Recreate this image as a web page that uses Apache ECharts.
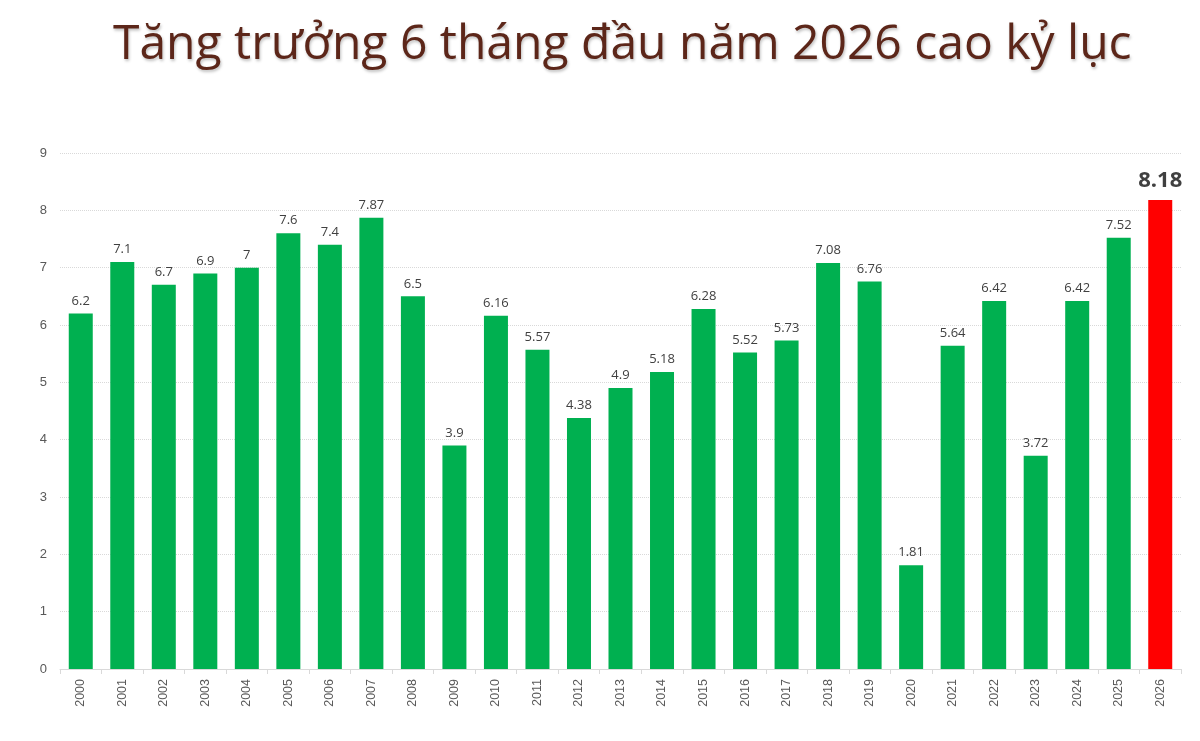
<!DOCTYPE html>
<html>
<head>
<meta charset="utf-8">
<script src="https://cdn.jsdelivr.net/npm/echarts@6/dist/echarts.min.js"></script>
<style>
html,body{margin:0;padding:0;background:#fff;}
#main-chart{width:1200px;height:741px;}
</style>
</head>
<body>
<div id="main-chart"></div>
<script>
// dữ liệu
var years = ['2000','2001','2002','2003','2004','2005','2006','2007','2008','2009','2010','2011','2012','2013',
	'2014','2015','2016','2017','2018','2019','2020','2021','2022','2023','2024','2025','2026'];
var growth = [6.2,7.1,6.7,6.9,7,7.6,7.4,7.87,6.5,3.9,6.16,5.57,4.38,4.9,
	5.18,6.28,5.52,5.73,7.08,6.76,1.81,5.64,6.42,3.72,6.42,7.52,8.18];
var highlightYear = '2026';

var barData = growth.map(function (v, i) {
	if (years[i] === highlightYear) {
		return {
			value: v,
			itemStyle: {color: '#ff0000'},
			label: {fontSize: 22, fontWeight: 'bold', color: '#404040', distance: 8}
		};
	}
	return v;
});

option = {
	backgroundColor: '#fff',
	title: {
		text: 'Tăng trưởng 6 tháng đầu năm 2026 cao kỷ lục',
		left: 108,
		top: 16,
		textStyle: {
			fontFamily: 'Open Sans',
			fontSize: 48,
			fontWeight: 'normal',
			color: '#5c2619',
			textShadowColor: 'rgba(0,0,0,0.25)',
			textShadowBlur: 3,
			textShadowOffsetX: 1,
			textShadowOffsetY: 2
		}
	},
	grid: {
		left: 60,
		right: 19,
		top: 153,
		bottom: 72
	},
	xAxis: [{
		type: 'category',
		data: years,
		boundaryGap: true,
		axisLine: {show: true, lineStyle: {color: '#d9d9d9'}},
		axisTick: {show: true, alignWithLabel: false, lineStyle: {color: '#d9d9d9'}},
		axisLabel: {rotate: 90, color: '#595959', fontSize: 12.5, fontFamily: 'Arial', margin: 10}
	}],
	yAxis: [{
		type: 'value',
		min: 0,
		max: 9,
		interval: 1,
		axisLine: {show: false},
		axisTick: {show: false},
		axisLabel: {color: '#595959', fontSize: 13, fontFamily: 'Arial', margin: 13},
		splitLine: {lineStyle: {color: '#d9d9d9', type: 'dotted'}}
	}],
	series: [{
		name: 'Tăng trưởng',
		type: 'bar',
		data: barData,
		barWidth: 24,
		itemStyle: {color: '#00b050'},
		label: {
			show: true,
			position: 'top',
			distance: 6,
			color: '#404040',
			fontSize: 13,
			fontFamily: 'Open Sans'
		}
	}]
};

var myChart = echarts.init(document.getElementById('main-chart'));
myChart.setOption(option);
</script>
</body>
</html>
